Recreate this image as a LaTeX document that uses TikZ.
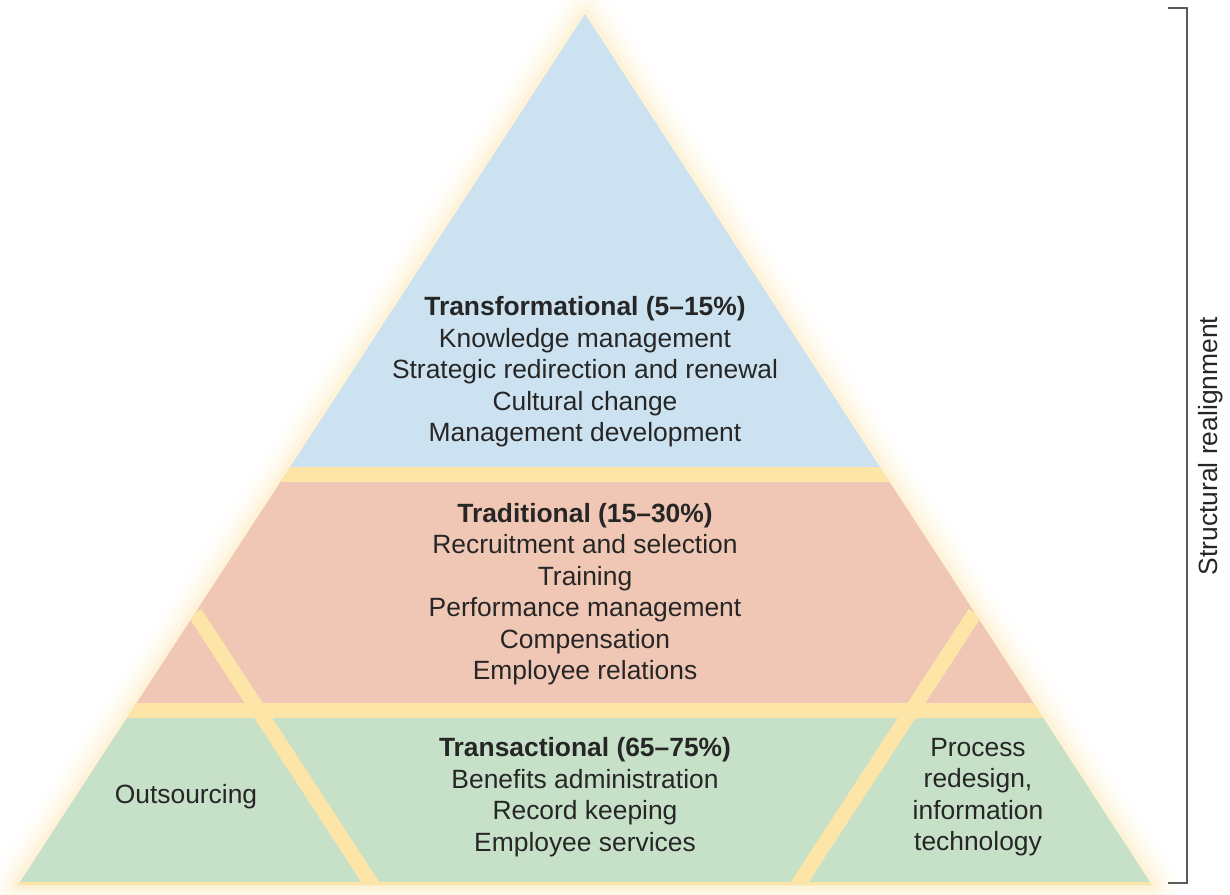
\documentclass[tikz,border=0pt]{standalone}
\usepackage{fontspec}
\setmainfont{Liberation Sans}
\definecolor{tierblue}{RGB}{205,226,240}
\definecolor{tierpink}{RGB}{240,199,181}
\definecolor{tiergreen}{RGB}{199,224,200}
\definecolor{gapyellow}{RGB}{253,229,168}
\definecolor{inkgray}{RGB}{38,38,38}
\definecolor{bracketgray}{RGB}{90,90,90}
\pgfmathsetmacro{\gapwidth}{7.5}

\begin{document}
\begin{tikzpicture}[x=0.5pt,y=-0.5pt,
    tiertext/.style={font=\fontsize{13.2}{15.75}\selectfont, align=center, text=inkgray},
    gapline/.style={draw=gapyellow, line width=\gapwidth pt}]
            \useasboundingbox (0,0) rectangle (1230,894);
            % soft glow round the pyramid
            \foreach \w/\o in {56/0.04,46/0.05,36/0.07,26/0.09,18/0.12,10/0.18}{
                \draw[gapyellow, line width=\w*0.5pt, draw opacity=\o, line join=round]
                    (585,14) -- (1152,885) -- (18,885) -- cycle;
            }
            \begin{scope}
                \clip (585,14) -- (1152,885) -- (18,885) -- cycle;
                \fill[tiergreen] (0,710) rectangle (1230,890);
                \fill[tierpink] (0,474.5) rectangle (1230,710.5);
                \fill[tierblue] (0,0) rectangle (1230,474.5);
                % gaps between the tiers
                \draw[gapline] (0,474.5) -- (1230,474.5);
                \draw[gapline] (0,710.5) -- (1230,710.5);
                \draw[gapline] (195,613) -- (380,897);
                \draw[gapline] (975,613) -- (790,897);
                \draw[gapline] (0,889) -- (1230,889);
            \end{scope}
            % tier texts
            \node[tiertext] (transformational) at (585,372)
                {\textbf{Transformational (5--15\%)}\\Knowledge management\\Strategic redirection and renewal\\Cultural change\\Management development};
            \node[tiertext] (traditional) at (585,594)
                {\textbf{Traditional (15--30\%)}\\Recruitment and selection\\Training\\Performance management\\Compensation\\Employee relations};
            \node[tiertext] (transactional) at (585,797)
                {\textbf{Transactional (65--75\%)}\\Benefits administration\\Record keeping\\Employee services};
            \node[tiertext] (outsourcing) at (186,797) {Outsourcing};
            \node[tiertext] (redesign) at (978,797) {Process\\redesign,\\information\\technology};
            % bracket on the right
            \coordinate (brtop) at (1168,8);
            \coordinate (brbot) at (1168,883);
            \draw[bracketgray, line width=1pt] (brtop) -- ++(19,0) |- (brbot);
            \node[tiertext, rotate=90] (realign) at (1211,446) {Structural realignment};
        \end{tikzpicture}
\end{document}
